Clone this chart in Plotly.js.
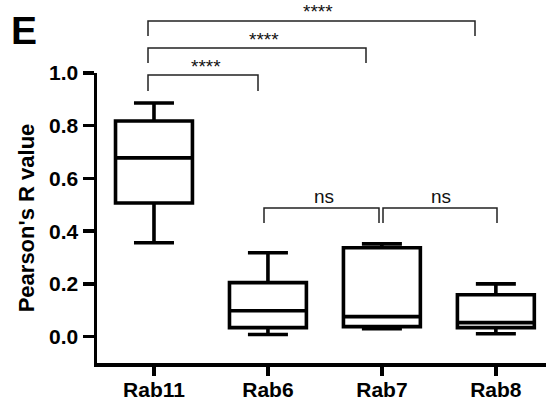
<!DOCTYPE html>
<html>
<head>
<meta charset="utf-8">
<script src="https://cdn.plot.ly/plotly-3.0.1.min.js"></script>
<style>html,body{margin:0;padding:0;background:#fff;}#chart{width:546px;height:401px;}</style>
</head>
<body>
<div id="chart"></div>
<script>
// ---- data ----
var categories = ['Rab11', 'Rab6', 'Rab7', 'Rab8'];
var upperWhisker = [0.886, 0.318, 0.352, 0.200];
var q3Values     = [0.818, 0.205, 0.337, 0.159];
var medians      = [0.678, 0.098, 0.076, 0.053];
var q1Values     = [0.507, 0.034, 0.038, 0.034];
var lowerWhisker = [0.356, 0.008, 0.030, 0.011];
var yTickVals    = [0.0, 0.2, 0.4, 0.6, 0.8, 1.0];
var yTickText    = ['0.0', '0.2', '0.4', '0.6', '0.8', '1.0'];
var comparisons  = [
  {from: 'Rab11', to: 'Rab6', label: '****'},
  {from: 'Rab11', to: 'Rab7', label: '****'},
  {from: 'Rab11', to: 'Rab8', label: '****'},
  {from: 'Rab6',  to: 'Rab7', label: 'ns'},
  {from: 'Rab7',  to: 'Rab8', label: 'ns'}
];
var yTitle = "Pearson's R value";
var panelLabel = 'E';

// ---- layout geometry (pixels) ----
var W = 546, H = 401;
var mL = 97, mR = 0, mT = 73, mB = 38;
var pw = W - mL - mR, ph = H - mT - mB;
function px2paperX(px) { return (px - mL) / pw; }
function px2paperY(py) { return (H - mB - py) / ph; }

// bracket pixel geometry (positions only)
var bracketGeom = [
  {x0: 148, x1: 258, top: 75, bot: 91, tx: 206, ty: 66, size: 19},
  {x0: 148, x1: 366, top: 48, bot: 63, tx: 264, ty: 39, size: 19},
  {x0: 148, x1: 475, top: 21, bot: 36, tx: 318, ty: 11, size: 19},
  {x0: 264, x1: 379, top: 208, bot: 223, tx: 324, ty: 196, size: 19},
  {x0: 383, x1: 497, top: 208, bot: 223, tx: 441, ty: 196, size: 19}
];

var shapes = [], annotations = [];
comparisons.forEach(function (c, i) {
  var g = bracketGeom[i];
  var path = 'M ' + px2paperX(g.x0) + ',' + px2paperY(g.bot) +
             ' L ' + px2paperX(g.x0) + ',' + px2paperY(g.top) +
             ' L ' + px2paperX(g.x1) + ',' + px2paperY(g.top) +
             ' L ' + px2paperX(g.x1) + ',' + px2paperY(g.bot);
  shapes.push({type: 'path', xref: 'paper', yref: 'paper', path: path,
               line: {color: '#222', width: 1.5}});
  annotations.push({xref: 'paper', yref: 'paper', x: px2paperX(g.tx), y: px2paperY(g.ty),
                    text: c.label, showarrow: false, xanchor: 'center', yanchor: 'middle',
                    font: {family: 'Liberation Sans, Arial, sans-serif', size: g.size, color: '#111'}});
});
annotations.push({xref: 'paper', yref: 'paper', x: px2paperX(9), y: px2paperY(30),
                  text: '<b>' + panelLabel + '</b>', showarrow: false, xanchor: 'left', yanchor: 'middle',
                  font: {family: 'Liberation Sans, Arial, sans-serif', size: 39, color: '#000'}});

var trace = {
  type: 'box',
  x: categories,
  q1: q1Values,
  median: medians,
  q3: q3Values,
  lowerfence: lowerWhisker,
  upperfence: upperWhisker,
  boxpoints: false,
  width: 0.675,
  whiskerwidth: 0.52,
  fillcolor: '#ffffff',
  line: {color: '#000', width: 3.6},
  hoverinfo: 'skip'
};

var layout = {
  width: W, height: H,
  margin: {l: mL, r: mR, t: mT, b: mB, pad: 0},
  paper_bgcolor: '#fff', plot_bgcolor: '#fff',
  showlegend: false,
  font: {family: 'Liberation Sans, Arial, sans-serif', color: '#000'},
  xaxis: {
    type: 'category',
    range: [-0.5, 3.44],
    showline: true, linecolor: '#000', linewidth: 3.5,
    ticks: 'outside', ticklen: 9, tickwidth: 3.5, tickcolor: '#000',
    ticklabelstandoff: -4,
    showgrid: false, zeroline: false,
    tickfont: {size: 21, family: 'Liberation Sans, Arial, sans-serif', weight: 'bold', color: '#000'}
  },
  yaxis: {
    range: [-0.1, 1.0],
    tickvals: yTickVals, ticktext: yTickText,
    showline: true, linecolor: '#000', linewidth: 3.5,
    ticks: 'outside', ticklen: 11, tickwidth: 3.5, tickcolor: '#000',
    showgrid: false, zeroline: false,
    tickfont: {size: 21, family: 'Liberation Sans, Arial, sans-serif', weight: 'bold', color: '#000'},
    title: {text: yTitle, standoff: 9,
            font: {size: 22, family: 'Liberation Sans, Arial, sans-serif', weight: 'bold', color: '#000'}}
  },
  shapes: shapes,
  annotations: annotations
};

Plotly.newPlot('chart', [trace], layout, {staticPlot: true, displayModeBar: false});
</script>
</body>
</html>
